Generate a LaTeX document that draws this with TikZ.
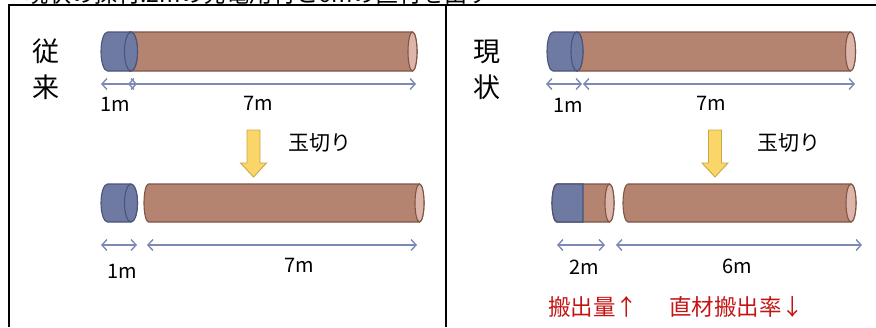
\documentclass[tikz,border=0pt]{standalone}
\usepackage{fontspec}
\setmainfont{Noto Sans CJK JP}
\usetikzlibrary{arrows.meta}

\definecolor{woodfill}{RGB}{181,132,113}
\definecolor{wooddraw}{RGB}{128,84,70}
\definecolor{woodface}{RGB}{220,182,170}
\definecolor{barkfill}{RGB}{110,122,162}
\definecolor{barkdraw}{RGB}{72,84,124}
\definecolor{dimline}{RGB}{125,138,180}
\definecolor{cutfill}{RGB}{250,214,104}
\definecolor{cutdraw}{RGB}{200,168,70}
\definecolor{notered}{RGB}{196,20,20}

% log segment: #1 left extreme, #2 centre of end face, #3 axis y,
% #4 half height, #5 face x-radius, #6 body fill, #7 outline, #8 face fill
\newcommand{\logpiece}[8]{%
  \filldraw[fill=#6,draw=#7,line width=1.1pt]
    (#1+#5,#3-#4) -- (#2,#3-#4)
    arc[start angle=-90,end angle=90,x radius=#5,y radius=#4]
    -- (#1+#5,#3+#4)
    arc[start angle=90,end angle=270,x radius=#5,y radius=#4] -- cycle;
  \filldraw[fill=#8,draw=#7,line width=1.1pt]
    (#2,#3) ellipse[x radius=#5,y radius=#4];}

% downward cutting arrow centred at #1
\newcommand{\cutarrow}[1]{%
  \filldraw[fill=cutfill,draw=cutdraw,line width=0.9pt]
    (#1-6.5,130) -- (#1+6.5,130) -- (#1+6.5,163) -- (#1+13,163)
    -- (#1,177) -- (#1-13,163) -- (#1-6.5,163) -- cycle;}

\tikzset{
  frame/.style={line width=1.6pt,draw=black},
  dim/.style={draw=dimline,line width=1.4pt,
    {Straight Barb[length=5pt,width=11pt]}-{Straight Barb[length=5pt,width=11pt]}},
  dimlabel/.style={font=\fontsize{20}{20}\selectfont,inner sep=0pt},
  sidelabel/.style={font=\fontsize{27}{27}\selectfont,inner sep=0pt},
  cutlabel/.style={font=\fontsize{21}{21}\selectfont,inner sep=0pt,anchor=west},
  note/.style={font=\fontsize{22.5}{22.5}\selectfont,inner sep=0pt,anchor=west,text=notered},
  heading/.style={font=\fontsize{23}{23}\selectfont,inner sep=0pt,anchor=base west}
}

\begin{document}
\begin{tikzpicture}[x=1pt,y=-1pt]
\useasboundingbox (0,0) rectangle (876,327);

% heading running off the top edge
\node[heading] (title) at (25,2) {現状の採材:2mの発電用材と6mの直材を出す};

% frame
\coordinate (tl) at (8,5);
\coordinate (tr) at (876,5);
\coordinate (bl) at (9,327);
\coordinate (ml) at (446,5);
\coordinate (mb) at (446,327);
\draw[frame] (tl) -- (tr);
\draw[frame] (9,5) -- (bl);
\draw[frame] (ml) -- (mb);

% ---------- left panel ----------
\node[sidelabel] (l1) at (46,51) {従};
\node[sidelabel] (l2) at (46,87) {来};

\logpiece{125}{412.5}{51.5}{19.5}{4.5}{woodfill}{wooddraw}{woodface}
\logpiece{101}{131}{51.5}{19.5}{6.5}{barkfill}{barkdraw}{barkfill}

\coordinate (a1) at (101,84); \coordinate (a2) at (137,84);
\coordinate (a3) at (128,84); \coordinate (a4) at (416,84);
\draw[dim] (a1) -- (a2);
\draw[dim] (a3) -- (a4);
\node[dimlabel] (la) at (115,104) {1m};
\node[dimlabel] (lb) at (258,103) {7m};

\cutarrow{253.5}
\node[cutlabel] (lcut) at (288,143) {玉切り};

\logpiece{101}{131}{203}{19}{6.5}{barkfill}{barkdraw}{barkfill}
\logpiece{144}{419.5}{203}{19}{4.5}{woodfill}{wooddraw}{woodface}

\coordinate (b1) at (101,245); \coordinate (b2) at (137,245);
\coordinate (b3) at (147,245); \coordinate (b4) at (417,245);
\draw[dim] (b1) -- (b2);
\draw[dim] (b3) -- (b4);
\node[dimlabel] (lc) at (122,271) {1m};
\node[dimlabel] (ld) at (299,265) {7m};

% ---------- right panel ----------
\node[sidelabel] (r1) at (487,52) {現};
\node[sidelabel] (r2) at (487,87) {状};

\logpiece{572}{850.5}{51.5}{19.5}{5}{woodfill}{wooddraw}{woodface}
\logpiece{547}{577}{51.5}{19.5}{6}{barkfill}{barkdraw}{barkfill}

\coordinate (c1) at (546,84); \coordinate (c2) at (582,84);
\coordinate (c3) at (583,84); \coordinate (c4) at (855,84);
\draw[dim] (c1) -- (c2);
\draw[dim] (c3) -- (c4);
\node[dimlabel] (ra) at (568,105) {1m};
\node[dimlabel] (rb) at (711,103) {7m};

\cutarrow{715}
\node[cutlabel] (rcut) at (757,143) {玉切り};

% short piece: bark end plus part of the trunk
\logpiece{552}{609.5}{203}{19}{4.5}{woodfill}{wooddraw}{woodface}
\filldraw[fill=barkfill,draw=barkdraw,line width=1.1pt]
  (583,184) -- (557.5,184)
  arc[start angle=270,end angle=90,x radius=5.5,y radius=19]
  -- (583,222) -- cycle;
\logpiece{623}{851}{203}{19}{5}{woodfill}{wooddraw}{woodface}

\coordinate (d1) at (557,245); \coordinate (d2) at (605,245);
\coordinate (d3) at (616,245); \coordinate (d4) at (862,245);
\draw[dim] (d1) -- (d2);
\draw[dim] (d3) -- (d4);
\node[dimlabel] (rc) at (584,267) {2m};
\node[dimlabel] (rd) at (737,266) {6m};

\node[note] (n1) at (548,307) {搬出量↑};
\node[note] (n2) at (669,307) {直材搬出率↓};

\end{tikzpicture}
\end{document}
